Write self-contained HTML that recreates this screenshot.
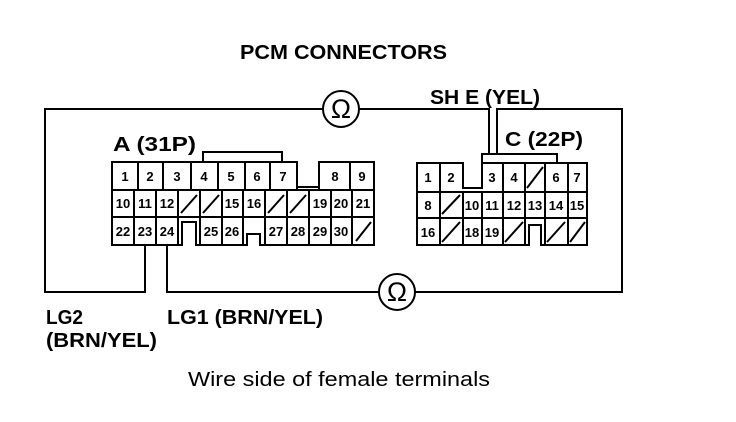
<!DOCTYPE html>
<html><head><style>
body{margin:0;background:#fff;}
svg{display:block;}
text{font-family:"Liberation Sans",sans-serif;fill:#000;}
.b{font-weight:bold;}
.n{font-size:13px;font-weight:bold;text-anchor:middle;}
</style></head><body>
<svg width="736" height="422" viewBox="0 0 736 422" xmlns="http://www.w3.org/2000/svg">
<g fill="none" stroke="#000" stroke-width="2">
<polyline points="489,154 489,109 359,109"/>
<polyline points="323,109 45,109 45,292 145,292 145,245"/>
<polyline points="167,245 167,292 379,292"/>
<polyline points="415,292 622,292 622,109 497,109 497,154"/>
<circle cx="341" cy="109" r="18"/>
<circle cx="397" cy="292" r="18"/>
<polyline points="203,162 203,152 282,152 282,162"/>
<path d="M112,162 H297 V187 H319 V162 H374 V245 H112 Z"/>
<path d="M112,190 H374 M112,217 H374"/>
<path d="M138,162V190 M163,162V190 M191,162V190 M218,162V190 M245,162V190 M270,162V190 M297,187V190 M319,187V190 M350,162V190"/>
<path d="M134,190V217 M156,190V217 M178,190V217 M200,190V217 M222,190V217 M243,190V217 M265,190V217 M287,190V217 M309,190V217 M331,190V217 M352,190V217"/>
<path d="M181,213 L197,195 M203,213 L219,195 M268,213 L284,195 M290,213 L306,195"/>
<path d="M134,217V245 M156,217V245 M178,217V245 M200,217V245 M222,217V245 M243,217V245 M265,217V245 M287,217V245 M309,217V245 M331,217V245 M352,217V245"/>
<path d="M356,241 L371,222"/>
</g>
<g fill="#fff" stroke="#000" stroke-width="2">
<path d="M182,246 V222 H196 V246"/>
<path d="M247,246 V234 H260 V246"/>
</g>
<g fill="none" stroke="#000" stroke-width="2">
<polyline points="482,163 482,154 557,154 557,163"/>
<path d="M417,163 H463 V188 H482 V163 H587 V245 H417 Z"/>
<path d="M417,192 H587 M417,218 H587"/>
<path d="M440,163V192 M503,163V192 M525,163V192 M545,163V192 M568,163V192"/>
<path d="M440,192V245 M463,192V245 M482,192V245 M503,192V245 M525,192V245 M545,192V245 M568,192V245"/>
<path d="M527,188 L543,167 M442,214 L460,195 M442,242 L460,222 M505,242 L523,222 M547,242 L565,222 M570,242 L585,222"/>
</g>
<g fill="#fff" stroke="#000" stroke-width="2">
<path d="M529,246 V225 H541 V246"/>
</g>
<g>
<text class="n" x="125" y="181">1</text><text class="n" x="150" y="181">2</text><text class="n" x="177" y="181">3</text><text class="n" x="204" y="181">4</text><text class="n" x="231" y="181">5</text><text class="n" x="257" y="181">6</text><text class="n" x="283" y="181">7</text><text class="n" x="335" y="181">8</text><text class="n" x="362" y="181">9</text>
<text class="n" x="123" y="208">10</text><text class="n" x="145" y="208">11</text><text class="n" x="167" y="208">12</text><text class="n" x="232" y="208">15</text><text class="n" x="254" y="208">16</text><text class="n" x="320" y="208">19</text><text class="n" x="341" y="208">20</text><text class="n" x="363" y="208">21</text>
<text class="n" x="123" y="236">22</text><text class="n" x="145" y="236">23</text><text class="n" x="167" y="236">24</text><text class="n" x="211" y="236">25</text><text class="n" x="232" y="236">26</text><text class="n" x="276" y="236">27</text><text class="n" x="298" y="236">28</text><text class="n" x="320" y="236">29</text><text class="n" x="341" y="236">30</text>
<text class="n" x="428" y="182">1</text><text class="n" x="451" y="182">2</text><text class="n" x="492" y="182">3</text><text class="n" x="514" y="182">4</text><text class="n" x="556" y="182">6</text><text class="n" x="577" y="182">7</text>
<text class="n" x="428" y="210">8</text><text class="n" x="472" y="210">10</text><text class="n" x="492" y="210">11</text><text class="n" x="514" y="210">12</text><text class="n" x="535" y="210">13</text><text class="n" x="556" y="210">14</text><text class="n" x="577" y="210">15</text>
<text class="n" x="428" y="237">16</text><text class="n" x="472" y="237">18</text><text class="n" x="492" y="237">19</text>
</g>
<text x="341" y="118" font-size="27" text-anchor="middle">Ω</text>
<text x="397" y="301" font-size="27" text-anchor="middle">Ω</text>
<text class="b" x="240" y="59" font-size="20" textLength="207" lengthAdjust="spacingAndGlyphs">PCM CONNECTORS</text>
<text class="b" x="430" y="104" font-size="20" textLength="110" lengthAdjust="spacingAndGlyphs">SH E (YEL)</text>
<text class="b" x="113" y="151" font-size="20" textLength="83" lengthAdjust="spacingAndGlyphs">A (31P)</text>
<text class="b" x="505" y="146" font-size="20" textLength="78" lengthAdjust="spacingAndGlyphs">C (22P)</text>
<text class="b" x="46" y="324" font-size="20" textLength="37" lengthAdjust="spacingAndGlyphs">LG2</text>
<text class="b" x="46" y="347" font-size="20" textLength="111" lengthAdjust="spacingAndGlyphs">(BRN/YEL)</text>
<text class="b" x="167" y="324" font-size="20" textLength="156" lengthAdjust="spacingAndGlyphs">LG1 (BRN/YEL)</text>
<text x="188" y="386" font-size="20" textLength="302" lengthAdjust="spacingAndGlyphs">Wire side of female terminals</text>
</svg>
</body></html>
